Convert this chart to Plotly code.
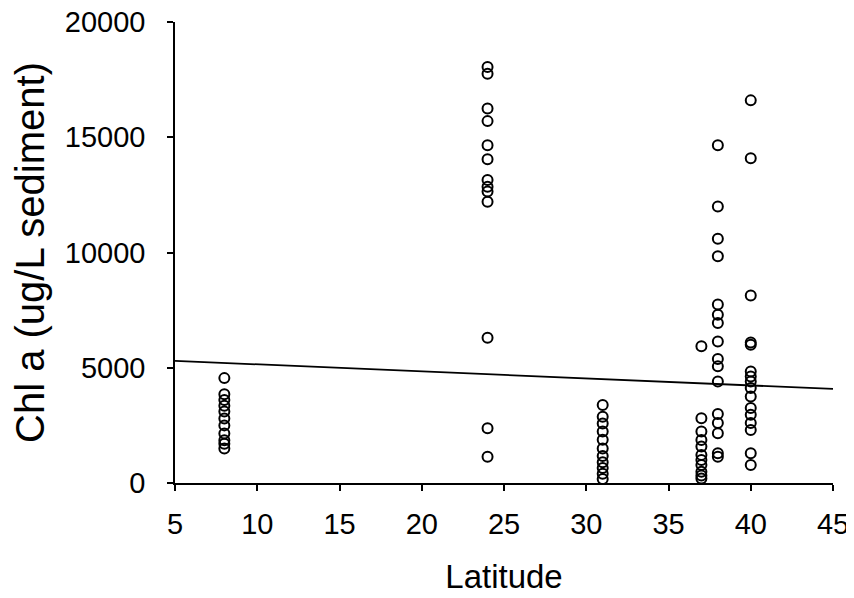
import plotly.graph_objects as go

# Chl a readings (ug/L sediment) grouped by site latitude
lat_groups = [8, 24, 31, 37, 38, 40]
chl_lat8 = [4550, 3850, 3600, 3350, 3100, 2800, 2500, 2150, 1850, 1700, 1500]
chl_lat24 = [18050, 17750, 16250, 15700, 14650, 14050, 13150, 12850, 12650, 12200, 6300, 2380, 1140]
chl_lat31 = [3380, 2870, 2580, 2230, 1880, 1500, 1170, 900, 650, 400, 170]
chl_lat37 = [5930, 2810, 2230, 1870, 1580, 1220, 1000, 780, 490, 330, 200]
chl_lat38 = [14650, 12000, 10600, 9840, 7740, 7300, 6940, 6140, 5380, 5060, 4400, 2990, 2600, 2160, 1290, 1140]
chl_lat40 = [16600, 14090, 8130, 6100, 6000, 4840, 4620, 4400, 4120, 3750, 3250, 2960, 2600, 2300, 1290, 780]

# regression line
fit_lat = [5, 45]
fit_chl = [5300, 4080]

chl_groups = [chl_lat8, chl_lat24, chl_lat31, chl_lat37, chl_lat38, chl_lat40]
xs, ys = [], []
for lat, vals in zip(lat_groups, chl_groups):
    xs += [lat] * len(vals)
    ys += vals

FONT = "Liberation Sans, Arial, Helvetica, sans-serif"
TICKFONT = dict(family=FONT, size=29, color="black")

fig = go.Figure()
fig.add_trace(go.Scatter(x=fit_lat, y=fit_chl, mode="lines",
                         line=dict(color="black", width=1.8), showlegend=False))
fig.add_trace(go.Scatter(x=xs, y=ys, mode="markers",
                         marker=dict(symbol="circle-open", size=10, color="black",
                                     line=dict(width=2)),
                         showlegend=False))

# the page puts the figure 8px in from the top-left corner
fig.update_layout(
    width=846, height=590,
    margin=dict(l=167, r=21, t=14, b=115),
    plot_bgcolor="white", paper_bgcolor="white",
    font=dict(family=FONT, size=27, color="black"),
    xaxis=dict(range=[5, 45], tickvals=list(range(5, 50, 5)), showgrid=False, zeroline=False,
               automargin=False, tickfont=TICKFONT, ticklabeloverflow="allow",
               showline=True, linecolor="black", linewidth=1.5,
               ticks="outside", ticklen=6, tickcolor="black", tickwidth=1.5,
               ticklabelstandoff=8,
               title=dict(text="Latitude", standoff=26, font=dict(size=33))),
    yaxis=dict(range=[0, 20000], tickvals=[0, 5000, 10000, 15000, 20000], tickformat="d",
               showgrid=False, zeroline=False, automargin=False, tickfont=TICKFONT,
               ticklabeloverflow="allow",
               showline=True, linecolor="black", linewidth=1.5,
               ticks="outside", ticklen=6, tickcolor="black", tickwidth=1.5,
               ticklabelstandoff=16,
               title=dict(text="Chl a (ug/L sediment)", standoff=20, font=dict(size=40))),
)

fig.write_html("out.html")
